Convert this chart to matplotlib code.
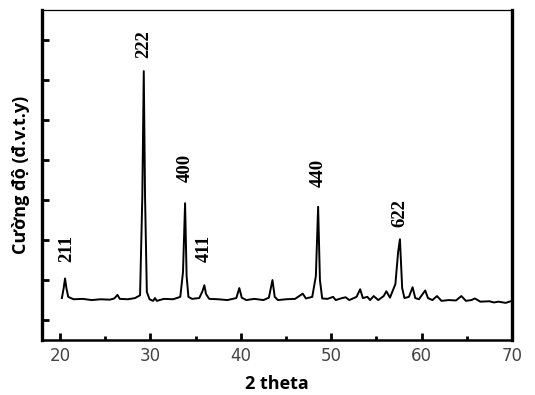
import matplotlib
matplotlib.use("Agg")
import matplotlib.pyplot as plt
import numpy as np

# XRD trace (2theta, intensity in arbitrary units)
two_theta = [20.2, 20.4, 20.55, 20.7, 20.9, 21.5, 22.5, 23.5, 24.5, 25.5,
             26.0, 26.35, 26.6, 27.5, 28.3, 28.85, 29.1, 29.26, 29.4, 29.6,
             29.9, 30.3, 30.5, 30.7, 31.5, 32.5, 33.3, 33.6, 33.83, 34.0,
             34.2, 34.6, 35.4, 35.75, 35.96, 36.15, 36.5, 37.5, 38.5, 39.5,
             39.83, 40.1, 40.6, 41.5, 42.5, 43.1, 43.5, 43.75, 44.1, 45.0,
             46.0, 46.85, 47.2, 47.9, 48.3, 48.55, 48.75, 49.0, 49.6, 50.2,
             50.5, 51.2, 51.6, 52.0, 52.8, 53.2, 53.5, 54.0, 54.3, 54.7,
             55.2, 55.8, 56.1, 56.5, 57.1, 57.4, 57.6, 57.85, 58.1, 58.6,
             59.0, 59.3, 59.7, 60.4, 60.7, 61.2, 61.7, 62.2, 63.0, 63.8,
             64.4, 64.9, 65.5, 65.9, 66.5, 67.5, 68.0, 68.5, 69.3, 70.0]
intensity = [1.05, 1.30, 1.54, 1.30, 1.08, 1.02, 1.03, 1.00, 1.02, 1.01,
             1.04, 1.13, 1.03, 1.02, 1.05, 1.12, 3.60, 6.72, 3.60, 1.20,
             1.02, 0.98, 1.05, 0.98, 1.03, 1.02, 1.08, 1.70, 3.42, 1.60,
             1.08, 1.03, 1.05, 1.22, 1.37, 1.15, 1.03, 1.02, 1.00, 1.05,
             1.30, 1.06, 1.00, 1.03, 1.00, 1.06, 1.50, 1.08, 1.00, 1.02,
             1.03, 1.16, 1.04, 1.08, 1.60, 3.33, 1.50, 1.04, 1.03, 1.08,
             1.00, 1.05, 1.07, 1.00, 1.08, 1.27, 1.05, 1.08, 1.00, 1.10,
             1.00, 1.10, 1.22, 1.06, 1.40, 2.20, 2.52, 1.30, 1.05, 1.08,
             1.32, 1.05, 1.02, 1.24, 1.05, 1.00, 1.10, 0.98, 1.00, 0.99,
             1.10, 0.98, 1.00, 1.04, 0.96, 0.97, 0.94, 0.96, 0.93, 0.98]

peak_labels = ["211", "222", "400", "411", "440", "622"]
label_x = [20.75, 29.26, 33.83, 35.96, 48.55, 57.6]
label_y = [2.30, 7.40, 4.30, 2.30, 4.17, 3.17]

fig = plt.figure(figsize=(5.35, 3.95), dpi=100)
ax = fig.add_axes([0.0785, 0.139, 0.8785, 0.836])

ax.plot(two_theta, intensity, color="black", lw=1.4)

for lab, lx, ly in zip(peak_labels, label_x, label_y):
    ax.text(lx, ly, lab, rotation=90, ha="center", va="center",
            family="Liberation Serif", fontweight="bold", fontsize=13.5)

ax.set_xlim(18, 70)
ax.set_ylim(0, 8.25)
ax.set_xticks([20, 30, 40, 50, 60, 70])
ax.set_xticks([25, 35, 45, 55, 65], minor=True)
ax.set_yticks(np.arange(0.5, 8.0, 1.0))
ax.set_yticklabels([])
ax.tick_params(axis="both", which="both", direction="in", width=2, color="black")
ax.tick_params(axis="x", which="major", length=5, labelsize=12,
               labelcolor="#444444", pad=5)
ax.tick_params(axis="x", which="minor", length=3)
ax.tick_params(axis="y", length=5)

ax.spines["left"].set_linewidth(2.4)
ax.spines["right"].set_linewidth(2.4)
ax.spines["bottom"].set_linewidth(1.8)
ax.spines["top"].set_linewidth(0.9)

ax.set_xlabel("2 theta", family="Open Sans", fontweight="bold", fontsize=13,
              labelpad=7)
ax.set_ylabel("Cường độ (đ.v.t.y)", family="Open Sans", fontweight="bold",
              fontsize=13, labelpad=5)

fig.savefig("out.png", dpi=100)
